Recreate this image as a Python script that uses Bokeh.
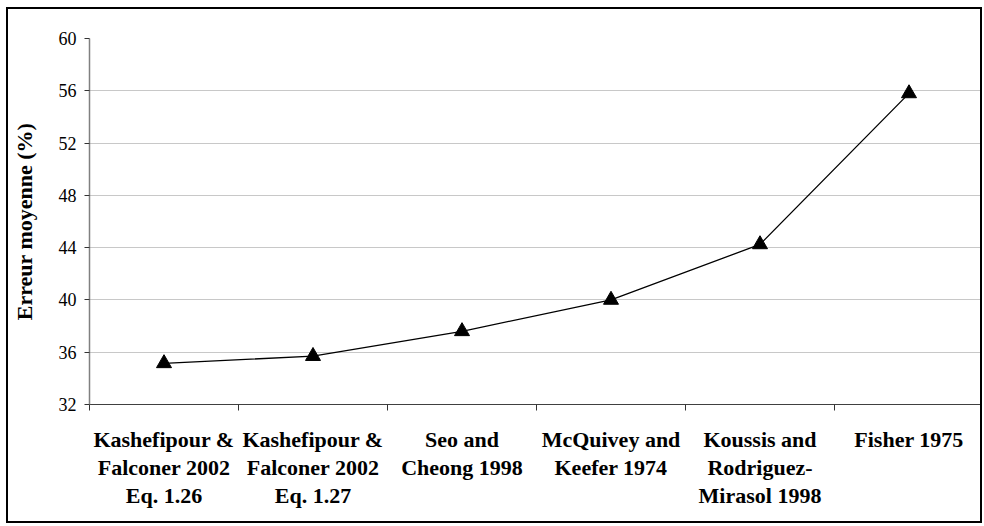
from bokeh.plotting import figure
from bokeh.models import FixedTicker, ColumnDataSource
from bokeh.embed import file_html
from bokeh.resources import INLINE

categories = [
    "Kashefipour &\nFalconer 2002\nEq. 1.26",
    "Kashefipour &\nFalconer 2002\nEq. 1.27",
    "Seo and\nCheong 1998",
    "McQuivey and\nKeefer 1974",
    "Koussis and\nRodriguez-\nMirasol 1998",
    "Fisher 1975",
]
erreur = [35.15, 35.7, 37.6, 40.0, 44.25, 55.8]
y_ticks = [32, 36, 40, 44, 48, 52, 56, 60]

n = len(categories)
xs = [i + 0.5 for i in range(n)]
src = ColumnDataSource(dict(x=xs, y=erreur))

p = figure(width=972, height=512, x_range=(0, n), y_range=(32, 60),
           output_backend="svg", toolbar_location=None,
           min_border_left=81, min_border_right=1, min_border_top=29,
           min_border_bottom=121)
p.styles = {"border": "2px solid black", "box-sizing": "content-box",
            "margin-left": "6px", "margin-top": "7px"}
p.outline_line_color = None
p.background_fill_color = "white"

p.line("x", "y", source=src, line_color="black", line_width=1.3)
p.scatter("x", "y", source=src, marker="triangle", size=15, fill_color="black",
          line_color="black")

FONT = "Liberation Serif"
xa = p.xaxis[0]
xa.ticker = FixedTicker(ticks=xs, minor_ticks=list(range(n + 1)))
xa.major_label_overrides = {x: c for x, c in zip(xs, categories)}
xa.major_tick_line_color = None
xa.major_tick_out = 0
xa.major_tick_in = 0
xa.minor_tick_out = 6
xa.minor_tick_in = 0
xa.minor_tick_line_color = "#333333"
xa.axis_line_color = "#404040"
xa.axis_line_width = 1.2
xa.major_label_text_font = FONT
xa.major_label_text_font_style = "bold"
xa.major_label_text_font_size = "22px"
xa.major_label_text_line_height = 1.12
xa.major_label_text_color = "black"
xa.major_label_standoff = 16
xa.major_label_orientation = "horizontal"

ya = p.yaxis[0]
ya.ticker = FixedTicker(ticks=y_ticks, minor_ticks=[])
ya.major_tick_out = 5
ya.major_tick_in = 0
ya.major_tick_line_color = "#333333"
ya.axis_line_color = "#808080"
ya.axis_line_width = 1.5
ya.major_label_text_font = FONT
ya.major_label_text_font_size = "18px"
ya.major_label_text_color = "black"
ya.major_label_standoff = 8
ya.axis_label = "Erreur moyenne (%)"
ya.axis_label_text_font = FONT
ya.axis_label_text_font_style = "bold"
ya.axis_label_text_font_size = "22px"
ya.axis_label_text_color = "black"
ya.axis_label_standoff = 19

p.xgrid.grid_line_color = None
p.ygrid.grid_line_color = "#c8c8c8"
p.ygrid.grid_line_width = 1

open("out.html", "w").write(file_html(p, INLINE))
